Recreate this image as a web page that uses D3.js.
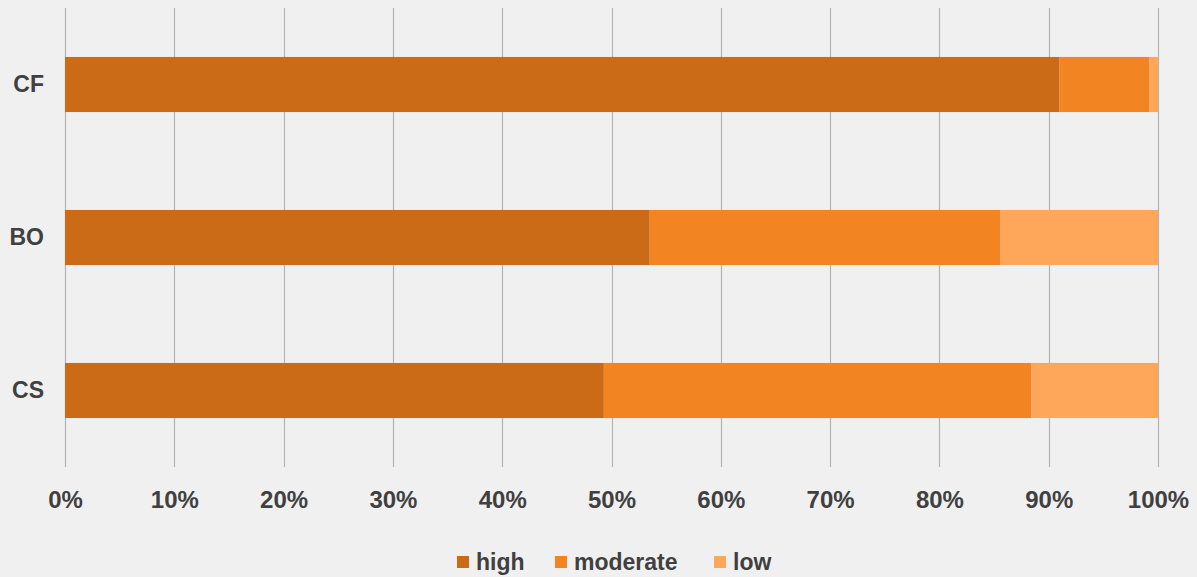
<!DOCTYPE html>
<html>
<head>
<meta charset="utf-8">
<script src="https://cdn.jsdelivr.net/npm/d3@7"></script>
<style>
  html, body { margin: 0; padding: 0; background: #f0f0f0; }
  svg { display: block; font-family: "Liberation Sans", Arial, Helvetica, sans-serif; font-weight: bold; }
</style>
</head>
<body>
<svg id="chart" width="1197" height="577"></svg>
<script>
// Share of each level per category (percent)
const categories = ["CF", "BO", "CS"];
const seriesNames = ["high", "moderate", "low"];
const high = [91.0, 53.5, 49.3];
const moderate = [8.2, 32.1, 39.1];
const low = [0.8, 14.4, 11.6];
const tickValues = [0, 10, 20, 30, 40, 50, 60, 70, 80, 90, 100];
const colors = ["#cb6b18", "#f38422", "#fea65a"];

const svg = d3.select("#chart");
const margin = { top: 8, right: 39, bottom: 110, left: 65 };
const width = 1197 - margin.left - margin.right;
const height = 577 - margin.top - margin.bottom;

const g = svg.append("g").attr("transform", `translate(${margin.left},${margin.top})`);

const x = d3.scaleLinear().domain([0, 100]).range([0, width]);
const y = d3.scaleBand().domain(categories).range([0, height]).paddingInner(0.64).paddingOuter(0.32);

// vertical gridlines
g.append("g").selectAll("line").data(tickValues).join("line")
  .attr("x1", d => Math.round(x(d)) + 0.5).attr("x2", d => Math.round(x(d)) + 0.5)
  .attr("y1", 0).attr("y2", height)
  .attr("stroke", "#b4b4b4").attr("stroke-width", 1.2);

// stacked bars
const rows = categories.map((c, i) => ({ cat: c, high: high[i], moderate: moderate[i], low: low[i] }));
const stack = d3.stack().keys(seriesNames)(rows);

g.append("g").selectAll("g").data(stack).join("g")
  .attr("fill", (d, i) => colors[i])
  .selectAll("rect").data(d => d).join("rect")
  .attr("x", d => x(d[0]))
  .attr("width", d => x(d[1]) - x(d[0]))
  .attr("y", d => y(d.data.cat))
  .attr("height", y.bandwidth());

// x axis labels
const xAxis = d3.axisBottom(x).tickValues(tickValues).tickFormat(d => d + "%").tickSize(0).tickPadding(24);
const xa = g.append("g").attr("transform", `translate(0,${height})`).call(xAxis);
xa.select(".domain").remove();
xa.selectAll("text").attr("font-size", 24).attr("fill", "#404040").attr("font-family", "Liberation Sans, Arial, sans-serif").attr("font-weight", "bold");

// y axis labels
const yAxis = d3.axisLeft(y).tickSize(0).tickPadding(21);
const ya = g.append("g").call(yAxis);
ya.select(".domain").remove();
ya.selectAll("text").attr("font-size", 23).attr("fill", "#404040").attr("font-family", "Liberation Sans, Arial, sans-serif").attr("font-weight", "bold");

// legend
const legendX = [457, 555, 714];
const legend = svg.append("g");
seriesNames.forEach((name, i) => {
  legend.append("rect").attr("x", legendX[i]).attr("y", 556).attr("width", 12).attr("height", 12).attr("fill", colors[i]);
  legend.append("text").attr("x", legendX[i] + 19).attr("y", 570)
    .attr("font-size", 23).attr("fill", "#404040").text(name);
});
</script>
</body>
</html>
